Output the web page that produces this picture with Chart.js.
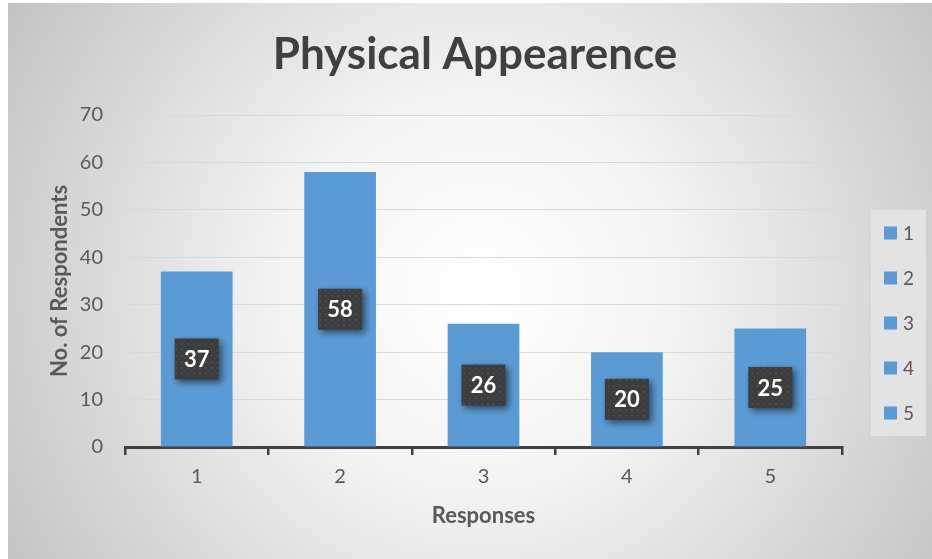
<!DOCTYPE html>
<html>
<head>
<meta charset="utf-8">
<script src="https://cdn.jsdelivr.net/npm/chart.js@4.4.1/dist/chart.umd.min.js"></script>
<style>
  html, body { margin: 0; padding: 0; background: #ffffff; }
  #c { display: block; }
</style>
</head>
<body>
<canvas id="c" width="932" height="559"></canvas>
<script>
// Survey results: number of respondents per response option
const chartTitle = 'Physical Appearence';
const categories = ['1', '2', '3', '4', '5'];
const respondents = [37, 58, 26, 20, 25];
const yTickValues = [0, 10, 20, 30, 40, 50, 60, 70];
const xAxisTitle = 'Responses';
const yAxisTitle = 'No. of Respondents';

const FONT = 'Lato, "Open Sans", "Liberation Sans", sans-serif';
const BAR_BLUE = '#5b9bd5';
const TEXT_GREY = '#595959';
const DARK = '#404040';

// Soft radial backdrop behind the whole chart
const backdrop = {
  id: 'backdrop',
  beforeDraw(chart) {
    const { ctx, width, height } = chart;
    ctx.save();
    ctx.fillStyle = '#ffffff';
    ctx.fillRect(0, 0, width, height);
    const g = ctx.createRadialGradient(480, 290, 0, 480, 290, 560);
    g.addColorStop(0, '#ffffff');
    g.addColorStop(0.35, '#f4f4f4');
    g.addColorStop(1, '#c2c2c2');
    ctx.fillStyle = g;
    ctx.fillRect(8, 3, width - 8, height - 3);
    ctx.restore();
  }
};

// Dotted dark fill used by the value badges
function makeBadgePattern(ctx) {
  const p = document.createElement('canvas');
  p.width = 6; p.height = 6;
  const pc = p.getContext('2d');
  pc.fillStyle = '#3c3c3c';
  pc.fillRect(0, 0, 6, 6);
  pc.fillStyle = '#4a4a4a';
  pc.fillRect(1, 1, 2, 2);
  pc.fillRect(4, 4, 1, 1);
  return ctx.createPattern(p, 'repeat');
}

// Value badges centred on each bar
const valueBadges = {
  id: 'valueBadges',
  afterDatasetsDraw(chart) {
    const { ctx } = chart;
    const meta = chart.getDatasetMeta(0);
    const values = chart.data.datasets[0].data;
    const pattern = makeBadgePattern(ctx);
    meta.data.forEach((bar, i) => {
      const cx = bar.x;
      const cy = (bar.y + bar.base) / 2;
      const w = 44, h = 41;
      ctx.save();
      ctx.shadowColor = 'rgba(0,0,0,0.55)';
      ctx.shadowBlur = 7;
      ctx.shadowOffsetX = 3;
      ctx.shadowOffsetY = 3;
      ctx.fillStyle = pattern;
      ctx.fillRect(cx - w / 2, cy - h / 2, w, h);
      ctx.restore();
      ctx.save();
      ctx.fillStyle = '#ffffff';
      ctx.font = 'bold 22px ' + FONT;
      ctx.textAlign = 'center';
      ctx.textBaseline = 'middle';
      ctx.fillText(String(values[i]), cx, cy + 1);
      ctx.restore();
    });
  }
};

// Legend panel listing each category on the right
const sideLegend = {
  id: 'sideLegend',
  afterDraw(chart) {
    const { ctx, chartArea } = chart;
    const x0 = chartArea.right + 29;
    const y0 = 210;
    const boxW = 55, boxH = 226;
    ctx.save();
    ctx.fillStyle = 'rgba(228,228,228,0.9)';
    ctx.fillRect(x0, y0, boxW, boxH);
    const labels = chart.data.labels;
    const step = 45;
    const firstY = y0 + 23;
    ctx.font = '19px ' + FONT;
    ctx.textBaseline = 'middle';
    ctx.textAlign = 'left';
    labels.forEach((lab, i) => {
      const y = firstY + i * step;
      ctx.fillStyle = chart.data.datasets[0].backgroundColor;
      ctx.fillRect(x0 + 13, y - 6.5, 13, 13);
      ctx.fillStyle = TEXT_GREY;
      ctx.fillText(lab, x0 + 32, y + 1);
    });
    ctx.restore();
  }
};

new Chart(document.getElementById('c'), {
  type: 'bar',
  data: {
    labels: categories,
    datasets: [{
      label: yAxisTitle,
      data: respondents,
      backgroundColor: BAR_BLUE,
      borderWidth: 0,
      categoryPercentage: 1.0,
      barPercentage: 0.5
    }]
  },
  options: {
    responsive: false,
    animation: false,
    devicePixelRatio: 1,
    layout: { padding: { left: 18, right: 0, top: 0, bottom: 0 } },
    plugins: {
      legend: { display: false },
      tooltip: { enabled: false },
      title: {
        display: true,
        text: chartTitle,
        color: DARK,
        font: { family: FONT, size: 44, weight: 'bold', lineHeight: 1.2 },
        padding: { top: 28, bottom: 34.2 }
      }
    },
    scales: {
      x: {
        afterFit(scale) { scale.height = 112; },
        border: { display: true, color: DARK, width: 3 },
        grid: {
          display: true,
          drawOnChartArea: false,
          drawTicks: true,
          tickLength: 8,
          color: DARK,
          lineWidth: 2.5,
          offset: true
        },
        ticks: {
          color: TEXT_GREY,
          font: { family: FONT, size: 20 },
          padding: 10
        },
        title: {
          display: true,
          text: xAxisTitle,
          color: TEXT_GREY,
          font: { family: FONT, size: 22, weight: 'bold', lineHeight: 1.2 },
          padding: { top: 0, bottom: 30 }
        }
      },
      y: {
        min: 0,
        max: 70,
        afterFit(scale) { scale.width = 107; },
        afterBuildTicks(scale) { scale.ticks = yTickValues.map(v => ({ value: v })); },
        border: { display: false },
        grid: {
          color: '#d9d9d9',
          lineWidth: 1,
          drawTicks: false
        },
        ticks: {
          color: TEXT_GREY,
          font: { family: FONT, size: 20 },
          padding: 22
        },
        title: {
          display: true,
          text: yAxisTitle,
          color: TEXT_GREY,
          font: { family: FONT, size: 22, weight: 'bold', lineHeight: 1.2 },
          padding: { top: 29, bottom: 0 }
        }
      },
      // Empty right-hand strip that leaves room for the legend panel
      legendGutter: {
        type: 'linear',
        position: 'right',
        display: true,
        afterFit(scale) { scale.width = 90; },
        border: { display: false },
        grid: { display: false, drawOnChartArea: false },
        ticks: { display: false }
      }
    }
  },
  plugins: [backdrop, valueBadges, sideLegend]
});
</script>
</body>
</html>
